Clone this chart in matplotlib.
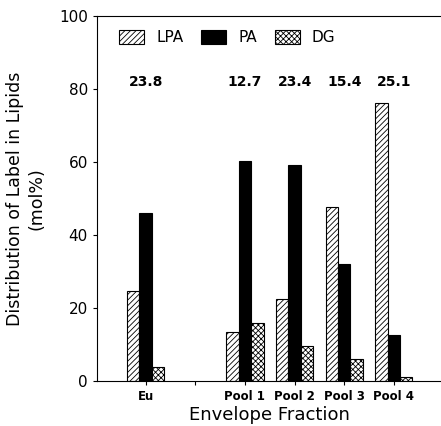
import numpy as np
import matplotlib.pyplot as plt

# data
fractions = ['Eu', '', 'Pool 1', 'Pool 2', 'Pool 3', 'Pool 4']
pos = np.array([0, 2, 3, 4, 5])
lpa = [24.6, 13.5, 22.6, 47.8, 76.2]
pa = [46.1, 60.2, 59.2, 32.0, 12.6]
dg = [3.9, 15.8, 9.7, 5.9, 1.2]
totals = ['23.8', '12.7', '23.4', '15.4', '25.1']

plt.rcParams['hatch.linewidth'] = 0.6

fig = plt.figure(figsize=(4.41, 4.26), dpi=100)
ax = fig.add_axes([0.22, 0.1056, 0.78, 0.8568])

w = 0.25
ax.bar(pos - w, lpa, w, color='white', edgecolor='black', hatch='//////', lw=0.8, label='LPA')
ax.bar(pos, pa, w, color='black', edgecolor='black', lw=0.8, label='PA')
ax.bar(pos + w, dg, w, color='white', edgecolor='black', hatch='xxxxxx', lw=0.8, label='DG')

for x, t in zip(pos, totals):
    ax.text(x, 82, t, ha='center', va='center', fontsize=10, fontweight='bold')

ax.set_xlim(-0.98, 5.95)
ax.set_ylim(0, 100)
ax.set_yticks([0, 20, 40, 60, 80, 100])
ax.set_xticks(range(6))
ax.set_xticklabels(fractions, fontsize=8.5, fontweight='bold')
ax.tick_params(axis='y', labelsize=11, length=3, width=0.8)
ax.tick_params(axis='x', length=3, width=0.8)
ax.spines['right'].set_visible(False)

ax.set_xlabel('Envelope Fraction', fontsize=13, labelpad=2)
ax.set_ylabel('Distribution of Label in Lipids\n(mol%)', fontsize=12.5, labelpad=10)

ax.legend(loc='upper left', bbox_to_anchor=(0.025, 1.0), ncol=3, frameon=False,
          fontsize=11, handlelength=1.6, handleheight=1.1, columnspacing=1.2,
          handletextpad=0.8)

plt.savefig('out.png', dpi=100)
